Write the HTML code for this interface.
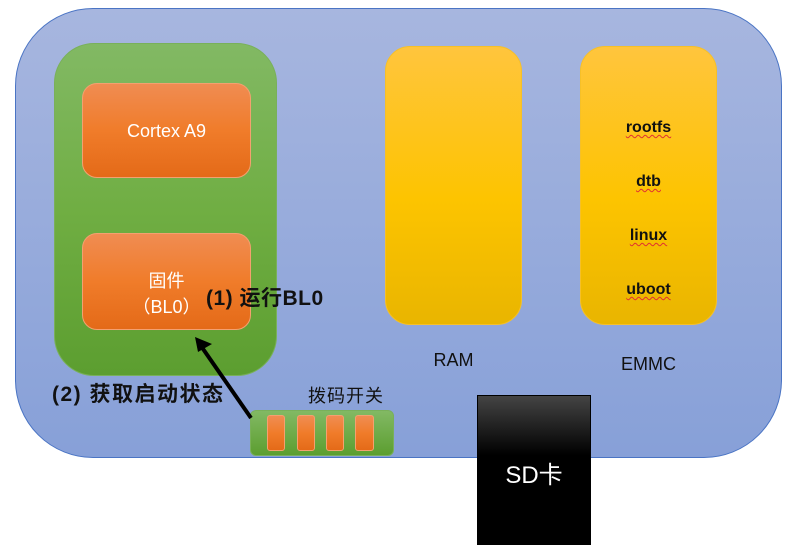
<!DOCTYPE html>
<html><head><meta charset="utf-8"><style>
body{margin:0;width:789px;height:545px;background:#fff;position:relative;overflow:hidden;font-family:"Liberation Sans","Noto Sans CJK SC",sans-serif}
div{position:absolute;box-sizing:border-box}
.t{text-align:center;white-space:nowrap}
.or{background:linear-gradient(#f08c52,#f07c2a 50%,#e46a18);border:1px solid #f4a070;border-radius:15px;color:#fff}
.ye{background:linear-gradient(#ffc53d,#fdc400 55%,#e9b500);border:1px solid #f6c028;border-radius:25px}
.b{font-weight:bold;color:#111;font-size:16px}
.u{text-decoration:underline wavy #e03030;text-decoration-thickness:1px;text-underline-offset:2px}
</style></head><body>
<div style="left:15px;top:8px;width:767px;height:450px;border:1px solid #4a74c4;border-radius:78px;background:linear-gradient(#a7b6df,#87a0d8)"></div>
<div style="left:54px;top:43px;width:223px;height:333px;border-radius:40px;background:linear-gradient(#82b964,#70ae43 50%,#5c9e30);border:1px solid #79b05a"></div>
<div class="or t" style="left:82px;top:83px;width:169px;height:95px;line-height:95px;font-size:18px">Cortex A9</div>
<div class="or t" style="left:82px;top:233px;width:169px;height:97px;padding-top:34px;font-size:18px;line-height:26px">固件<br>（BL0）</div>
<div class="ye" style="left:385px;top:46px;width:137px;height:279px"></div>
<div class="ye" style="left:580px;top:46px;width:137px;height:279px"></div>
<div class="t b" style="left:580px;top:119px;width:137px;font-size:16px"><span class="u">rootfs</span></div>
<div class="t b" style="left:580px;top:173px;width:137px"><span class="u">dtb</span></div>
<div class="t b" style="left:580px;top:227px;width:137px"><span class="u">linux</span></div>
<div class="t b" style="left:580px;top:281px;width:137px"><span class="u">uboot</span></div>
<div class="t" style="left:385px;top:350px;width:137px;font-size:18px;color:#111">RAM</div>
<div class="t" style="left:580px;top:354px;width:137px;font-size:18px;color:#111">EMMC</div>
<div class="t b" style="left:206px;top:286px;font-size:21px;line-height:26px;letter-spacing:0.5px">(1) 运行BL0</div>
<div class="t b" style="left:52px;top:382px;font-size:21px;line-height:26px;letter-spacing:1.5px">(2) 获取启动状态</div>
<div class="t" style="left:308px;top:384px;font-size:18px;line-height:24px;color:#111;letter-spacing:1px">拨码开关</div>
<div style="left:250px;top:410px;width:144px;height:46px;border-radius:6px;background:linear-gradient(#82b964,#5c9e30);border:1px solid #79b05a"></div>
<div class="or" style="left:267px;top:415px;width:18px;height:36px;border-radius:3px"></div>
<div class="or" style="left:297px;top:415px;width:18px;height:36px;border-radius:3px"></div>
<div class="or" style="left:326px;top:415px;width:18px;height:36px;border-radius:3px"></div>
<div class="or" style="left:355px;top:415px;width:19px;height:36px;border-radius:3px"></div>
<svg style="position:absolute;left:0;top:0" width="789" height="545"><line x1="251" y1="418" x2="201" y2="346" stroke="#000" stroke-width="4"/><polygon points="195,337 212,344 198,352" fill="#000"/></svg>
<div class="t" style="left:477px;top:395px;width:114px;height:150px;background:linear-gradient(#444,#000 40%);border:1px solid #000;color:#fff;font-size:24px;line-height:160px">SD卡</div>
</body></html>
